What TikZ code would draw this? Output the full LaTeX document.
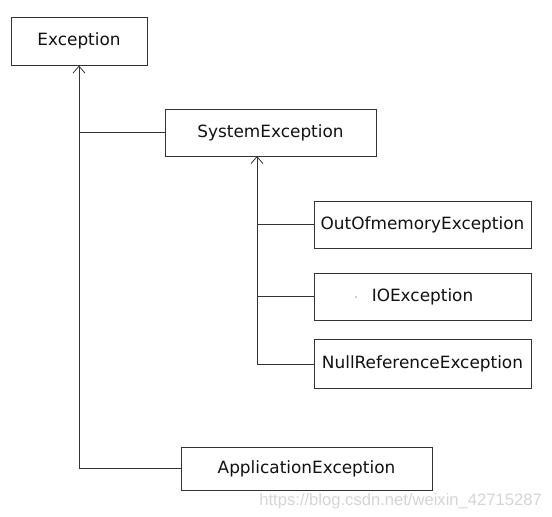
\documentclass[tikz,border=0pt]{standalone}
\usepackage{fontspec}
\setmainfont{DejaVu Sans}
\newfontfamily\wmfont{Liberation Sans}
\usetikzlibrary{arrows.meta}
\definecolor{linec}{HTML}{333333}
\definecolor{textc}{HTML}{111111}
\definecolor{wmc}{HTML}{D4D4D4}
\tikzset{
  cls/.style={draw=linec, line width=1pt, fill=white, text=textc, inner sep=0pt,
    font=\fontsize{16.9}{18}\selectfont},
  link/.style={draw=linec, line width=1pt},
  inh/.style={link, -{Straight Barb[length=7pt,width=12pt,line width=0.8pt]}},
}
\begin{document}
\begin{tikzpicture}[x=1pt,y=-1pt]
\useasboundingbox (0,0) rectangle (552,517);
\node[cls, minimum width=136pt, minimum height=48pt] (exc) at (79,41) {Exception};
\node[cls, minimum width=211pt, minimum height=47pt] (sys) at (270.5,132.5) {SystemException};
\node[cls, minimum width=217pt, minimum height=47pt] (oom) at (422.5,224.5) {OutOfmemoryException};
\node[cls, minimum width=217pt, minimum height=47pt] (io) at (422.5,296.5) {IOException};
\node[cls, minimum width=217pt, minimum height=49pt] (nul) at (422.5,364) {NullReferenceException};
\node[cls, minimum width=251pt, minimum height=43pt] (app) at (306.5,468.5) {ApplicationException};
\coordinate (sysport) at (257,156);
\fill[linec] (356,297) circle (0.7pt);
% hierarchy from Exception
\draw[inh] (app.west) -| (exc.south);
\draw[link] (sys.west) -- (sys.west -| exc.south);
% hierarchy from SystemException
\draw[inh] (nul.west) -| (sysport);
\draw[link] (oom.west) -- (oom.west -| sysport);
\draw[link] (io.west) -- (io.west -| sysport);
\node[text=wmc, font=\wmfont\fontsize{16.6}{18}\selectfont, anchor=base east, inner sep=0pt] (wm) at (542,505) {https://blog.csdn.net/weixin\_42715287};
\end{tikzpicture}
\end{document}
